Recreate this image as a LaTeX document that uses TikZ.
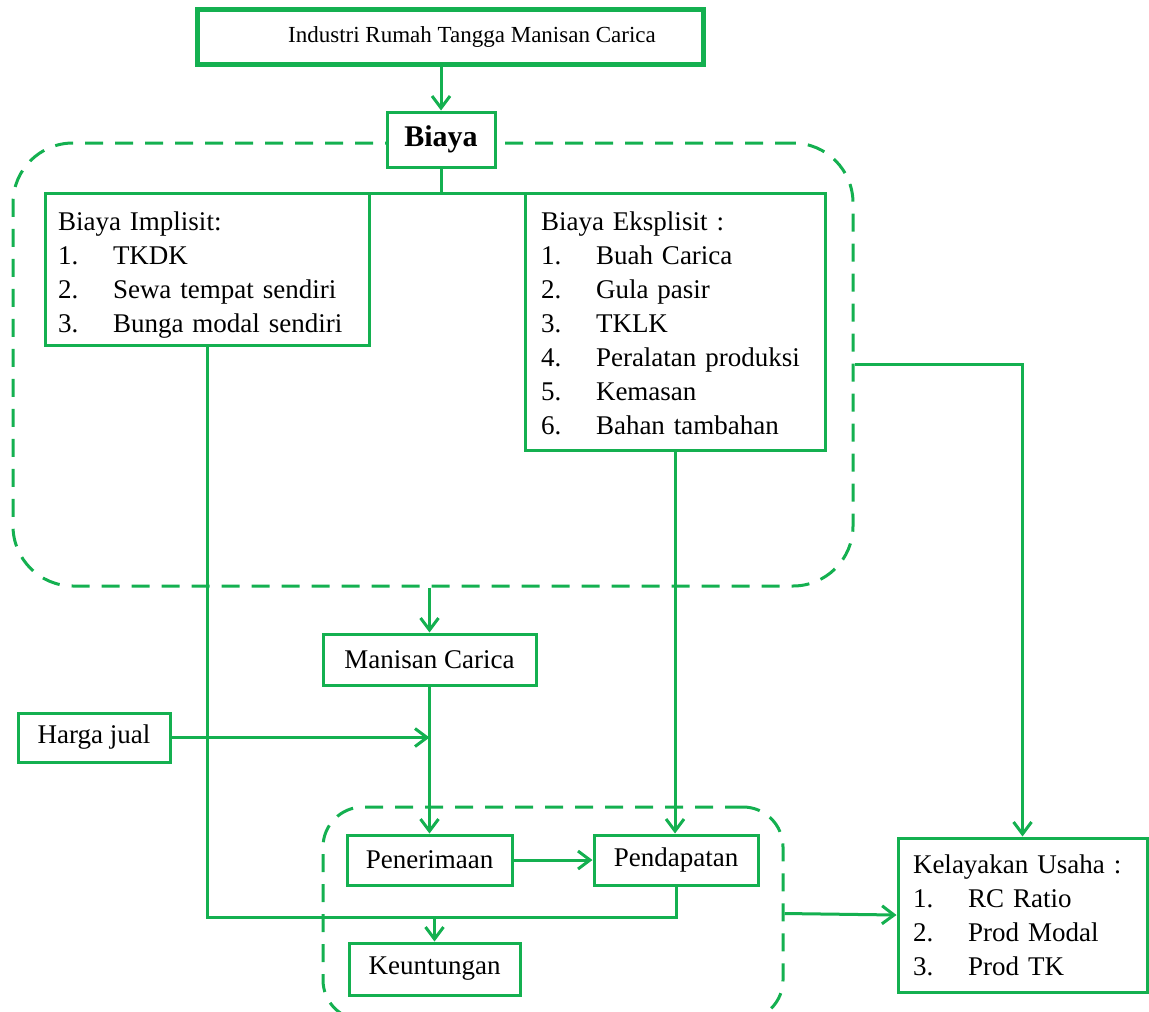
\documentclass[tikz,border=0pt]{standalone}
\usepackage{fontspec}
\setmainfont{Liberation Serif}
\usepackage{xcolor}
\usepackage{tikz}
\usetikzlibrary{arrows.meta, positioning, calc}

\definecolor{cgreen}{RGB}{20,176,80}
\newcommand{\itemno}[2]{\makebox[27.5pt][l]{#1}#2}

\begin{document}
\begin{tikzpicture}[
    x=0.5pt, y=-0.5pt,
    >={Straight Barb[length=6pt, width=9pt]},
    every node/.style={font=\fontsize{13.5}{17}\selectfont, text=black},
    box/.style={draw=cgreen, line width=1.5pt, fill=white, inner sep=0pt},
    listbox/.style={box, align=left},
    group/.style={draw=cgreen, line width=1.5pt, dash pattern=on 9pt off 6pt,
        rounded corners=#1},
    conn/.style={draw=cgreen, line width=1.5pt},
]
    \useasboundingbox (0,0) rectangle (1149,1011);

    % ── Dashed groups ─────────────────────────────
    \node[group=30pt, minimum width=420pt, minimum height=221.5pt]
        (costgroup) at (433,364.5) {};
    \node[group=20pt, minimum width=230pt, minimum height=106.5pt]
        (resultgroup) at (553,913.5) {};

    % ── Top ───────────────────────────────────────
    \node[box, line width=2.5pt, minimum width=253pt, minimum height=27.5pt,
          font=\fontsize{11.5}{14}\selectfont]
        (industri) at (450,37.5) {\hspace*{22pt}Industri Rumah Tangga Manisan Carica};
    \node[box, minimum width=54pt, minimum height=27.5pt,
          font=\fontsize{15}{18}\selectfont\bfseries]
        (biaya) at (441,139.5) {Biaya};

    % ── Cost boxes ────────────────────────────────
    \node[listbox, minimum width=162pt, minimum height=76pt, text width=149pt]
        (implisit) at (207,269) {\rule{0pt}{15.5pt}Biaya Implisit:\\
        \itemno{1.}{TKDK}\\
        \itemno{2.}{Sewa tempat sendiri}\\
        \itemno{3.}{Bunga modal sendiri}};
    \node[listbox, minimum width=150pt, minimum height=128.5pt, text width=134pt]
        (eksplisit) at (675,321.5) {\rule{0pt}{11pt}Biaya Eksplisit :\\
        \itemno{1.}{Buah Carica}\\
        \itemno{2.}{Gula pasir}\\
        \itemno{3.}{TKLK}\\
        \itemno{4.}{Peralatan produksi}\\
        \itemno{5.}{Kemasan}\\
        \itemno{6.}{Bahan tambahan}};

    % ── Product and revenue ───────────────────────
    \node[box, minimum width=106.5pt, minimum height=25.5pt]
        (manisan) at (429.5,659.5) {Manisan Carica};
    \node[box, minimum width=76pt, minimum height=24.5pt]
        (harga) at (94,737.5) {Harga jual};
    \node[box, minimum width=82.5pt, minimum height=25pt]
        (terima) at (429.5,860) {Penerimaan};
    \node[box, minimum width=82pt, minimum height=25pt]
        (pendapatan) at (676,860) {Pendapatan};
    \node[box, minimum width=85.5pt, minimum height=26pt]
        (untung) at (434.5,969) {Keuntungan};
    \node[listbox, minimum width=124.5pt, minimum height=77pt, text width=109.5pt]
        (layak) at (1022.5,915) {\rule{0pt}{9pt}Kelayakan Usaha :\\
        \itemno{1.}{RC Ratio}\\
        \itemno{2.}{Prod Modal}\\
        \itemno{3.}{Prod TK}};

    % ── Connectors ────────────────────────────────
    \coordinate (sumjoin) at (432,917);
    \draw[conn, ->] (industri.south -| biaya.north) -- (biaya.north);
    \draw[conn] (biaya.south) -- ([yshift=-0.75pt]biaya.south |- implisit.north);
    \draw[conn] ([yshift=-0.75pt]implisit.north east) -- ([yshift=-0.75pt]eksplisit.north west);
    \draw[conn, ->] (costgroup.south -| manisan.north) -- (manisan.north);
    \draw[conn, ->] (costgroup.east) -| (layak.north);
    \draw[conn, ->] (manisan.south) -- (terima.north);
    \draw[conn, ->] (harga.east) -- (harga.east -| manisan.south);
    \draw[conn, ->] (eksplisit.south) -- (eksplisit.south |- pendapatan.north);
    \draw[conn, ->] (terima.east) -- (pendapatan.west);
    \draw[conn] (implisit.south) |- (pendapatan.south |- sumjoin) -- (pendapatan.south);
    \draw[conn, ->] (untung.north |- sumjoin) -- (untung.north);
    \draw[conn, ->] (resultgroup.east) -- (layak.west);
\end{tikzpicture}
\end{document}
